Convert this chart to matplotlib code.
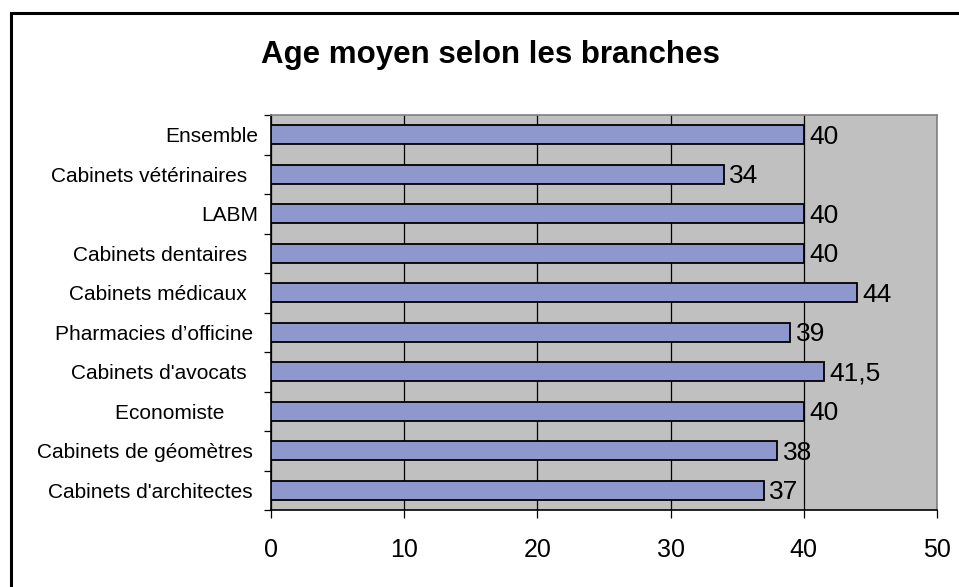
import matplotlib
matplotlib.use("Agg")
import matplotlib.pyplot as plt
from matplotlib.patches import Rectangle

plt.rcParams['font.family'] = ['Liberation Sans', 'DejaVu Sans']

title = "Age moyen selon les branches"
categories = ["Ensemble", "Cabinets vétérinaires", "LABM", "Cabinets dentaires",
              "Cabinets médicaux", "Pharmacies d\u2019officine", "Cabinets d'avocats",
              "Economiste", "Cabinets de géomètres", "Cabinets d'architectes"]
values = [40, 34, 40, 40, 44, 39, 41.5, 40, 38, 37]
value_labels = ["40", "34", "40", "40", "44", "39", "41,5", "40", "38", "37"]
label_trail = [0, 2, 0, 2, 2, 1, 2, 6, 1, 1]  # trailing spaces as in source labels
xticks = [0, 10, 20, 30, 40, 50]

fig = plt.figure(figsize=(9.59, 5.87), dpi=100)
fig.patch.set_facecolor('white')
# outer border
fig.add_artist(Rectangle((10.5/959, -0.05), 1.1, (587-12.5)/587 + 0.05, transform=fig.transFigure,
                         fill=False, edgecolor='black', linewidth=2.2))

ax = fig.add_axes([271/959, 1-510/587, (937-271)/959, (510-115)/587])
ax.set_facecolor('#C0C0C0')
n = len(categories)
ypos = list(range(n))
ax.barh(ypos, values, height=0.47, color='#8E98CD', edgecolor='black', linewidth=1.3, zorder=3)
ax.set_xlim(0, 50)
ax.set_ylim(n - 0.5, -0.5)
ax.set_xticks(xticks)
ax.set_xticklabels([str(t) for t in xticks], fontsize=18)
ax.xaxis.grid(True, color='black', linewidth=0.9, zorder=1)
ax.set_axisbelow(True)
ax.set_yticks([i - 0.5 for i in range(n + 1)], minor=False)
ax.set_yticklabels([])
ax.set_yticks(ypos, minor=True)
ax.set_yticklabels([c + " " * t for c, t in zip(categories, label_trail)], minor=True, fontsize=15)
ax.tick_params(axis='y', which='minor', length=0, pad=9)
ax.tick_params(axis='y', which='major', length=5, width=0.9, direction='out')
ax.tick_params(axis='x', length=6, width=0.9, direction='out', pad=14)
for s in ['top', 'right']:
    ax.spines[s].set_color('#808080')
    ax.spines[s].set_linewidth(1.2)
for s in ['left', 'bottom']:
    ax.spines[s].set_color('black')
    ax.spines[s].set_linewidth(1.2)

for y, v, lab in zip(ypos, values, value_labels):
    ax.annotate(lab, (v, y), xytext=(4, -1.5), textcoords='offset points',
                va='center', ha='left', fontsize=19, zorder=5)

fig.text(490/959, 1-63/587, title, ha='center', va='baseline', fontsize=22.5, fontweight='bold')

fig.savefig('out.png', dpi=100)
